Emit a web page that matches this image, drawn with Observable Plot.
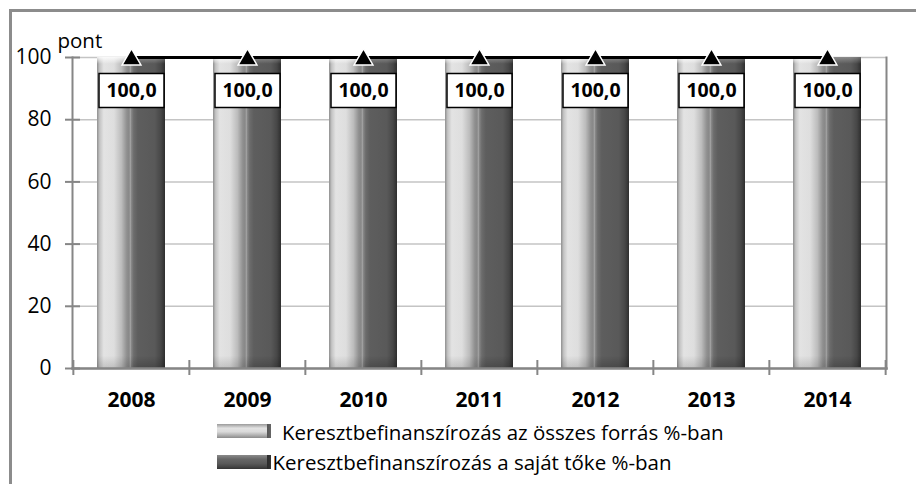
<!DOCTYPE html>
<html>
<head>
<meta charset="utf-8">
<script src="https://cdn.jsdelivr.net/npm/d3@7"></script>
<script src="https://cdn.jsdelivr.net/npm/@observablehq/plot@0.6"></script>
<style>
  html, body { margin: 0; padding: 0; background: #fff; overflow: hidden; }
  #wrap { position: relative; width: 916px; height: 484px; overflow: hidden; font-family: "Open Sans", sans-serif; }
  #border { position: absolute; left: 9px; top: 9px; width: 1000px; height: 1000px; border: 3px solid #8c8c8c; }
  #chart { position: absolute; left: 0; top: 0; }
  .lg-sw { position: absolute; width: 54px; height: 14px; box-sizing: border-box; }
  .lg-tx { position: absolute; font-size: 20.5px; line-height: 1; color: #000; white-space: nowrap; }
</style>
</head>
<body>
<div id="wrap">
  <div id="border"></div>
  <div id="chart"></div>
  <div class="lg-sw" id="sw1" style="left:217px; top:424px;"></div>
  <div class="lg-tx" id="tx1" style="left:282px; top:422px;"></div>
  <div class="lg-sw" id="sw2" style="left:217px; top:455px;"></div>
  <div class="lg-tx" id="tx2" style="left:272.5px; top:452px;"></div>
</div>
<script>
// ---- data ----
const years = ["2008", "2009", "2010", "2011", "2012", "2013", "2014"];
const osszesForras = [100, 100, 100, 100, 100, 100, 100];
const sajatToke = [100, 100, 100, 100, 100, 100, 100];
const indexLine = [100.0, 100.0, 100.0, 100.0, 100.0, 100.0, 100.0];
const yTicks = [0, 20, 40, 60, 80, 100];
const seriesNames = [
  "Keresztbefinanszírozás az összes forrás %-ban",
  "Keresztbefinanszírozás a saját tőke %-ban"
];
const yUnit = "pont";

const rows = years.map((year, i) => ({
  year,
  forras: osszesForras[i],
  toke: sajatToke[i],
  line: indexLine[i]
}));

const fmt = v => v.toFixed(1).replace(".", ",");

const W = 916, H = 410, ML = 72, MR = 30, MT = 57, MB = 42;
const step = (W - ML - MR) / years.length;
const padInner = 0.415;
const bw = step * (1 - padInner);

const boxSymbol = {
  draw(ctx) {
    ctx.moveTo(-32.5, -17);
    ctx.lineTo(32.5, -17);
    ctx.lineTo(32.5, 17);
    ctx.lineTo(-32.5, 17);
    ctx.closePath();
  }
};

const axisColor = "#868686";

const svg = Plot.plot({
  width: W,
  height: H,
  marginLeft: ML,
  marginRight: MR,
  marginTop: MT,
  marginBottom: MB,
  x: { domain: years, paddingInner: padInner, paddingOuter: padInner / 2, label: null },
  y: { domain: [0, 100], label: null },
  style: { fontFamily: "Open Sans, sans-serif", background: "transparent", color: "#000", overflow: "visible" },
  marks: [
    Plot.gridY(yTicks, { stroke: "#c4c4c4", strokeOpacity: 1, strokeWidth: 1.5 }),
    // bars
    Plot.barY(rows, { x: "year", y: "forras", fill: "url(#gLight)", insetRight: bw / 2 }),
    Plot.barY(rows, { x: "year", y: "forras", fill: "url(#gBevel)", insetRight: bw / 2 }),
    Plot.barY(rows, { x: "year", y: "toke", fill: "url(#gDark)", insetLeft: bw / 2 }),
    Plot.barY(rows, { x: "year", y: "toke", fill: "url(#gBevelD)", insetLeft: bw / 2 }),
    // frame lines
    Plot.frame({ anchor: "left", stroke: axisColor, strokeWidth: 2 }),
    Plot.frame({ anchor: "right", stroke: axisColor, strokeWidth: 2 }),
    Plot.frame({ anchor: "bottom", stroke: axisColor, strokeWidth: 2.5 }),
    // y axis
    Plot.axisY(yTicks, { tickSize: 15, dx: 8, stroke: axisColor, strokeWidth: 2, fill: "none", label: null }),
    Plot.axisY(yTicks, { tickSize: 0, tickPadding: 21, fontSize: 21, stroke: "none", label: null }),
    Plot.text([yUnit], { frameAnchor: "top-left", dx: -15, dy: -24, textAnchor: "start", fontSize: 20.5, fill: "#000" }),
    // x axis
    Plot.axisX({ tickSize: 15, dx: -step / 2, dy: -8, stroke: axisColor, strokeWidth: 2, fill: "none", label: null }),
    Plot.axisX([years[years.length - 1]], { tickSize: 15, dx: step / 2, dy: -8, stroke: axisColor, strokeWidth: 2, fill: "none", label: null }),
    Plot.axisX({ tickSize: 0, tickPadding: 24, fontSize: 21, fontWeight: "bold", stroke: "none", label: null }),
    // line with triangles
    Plot.lineY(rows, { x: "year", y: "line", stroke: "#000", strokeWidth: 3 }),
    Plot.dot(rows, { x: "year", y: "line", symbol: "triangle", r: 7, dy: 2, fill: "#000", stroke: "#fff", strokeWidth: 1.5 }),
    // labels
    Plot.dot(rows, { x: "year", y: "line", symbol: boxSymbol, r: 5, dy: 33, fill: "#fff", stroke: "#000", strokeWidth: 1.5 }),
    Plot.text(rows, { x: "year", y: "line", text: d => fmt(d.line), dy: 33, fontSize: 19.5, fontWeight: "bold", fill: "#000" })
  ]
});

d3.select(svg).insert("defs", ":first-child").html(`
  <linearGradient id="gLight" x1="0" x2="1" y1="0" y2="0">
    <stop offset="0" stop-color="#8f8f8f"/>
    <stop offset="0.08" stop-color="#c4c4c4"/>
    <stop offset="0.2" stop-color="#e3e3e3"/>
    <stop offset="0.5" stop-color="#dedede"/>
    <stop offset="0.72" stop-color="#bcbcbc"/>
    <stop offset="0.88" stop-color="#8e8e8e"/>
    <stop offset="0.94" stop-color="#888888"/>
    <stop offset="1" stop-color="#a6a6a6"/>
  </linearGradient>
  <linearGradient id="gDark" x1="0" x2="1" y1="0" y2="0">
    <stop offset="0" stop-color="#8a8a8a"/>
    <stop offset="0.08" stop-color="#6c6c6c"/>
    <stop offset="0.2" stop-color="#5e5e5e"/>
    <stop offset="0.7" stop-color="#595959"/>
    <stop offset="0.88" stop-color="#474747"/>
    <stop offset="1" stop-color="#2e2e2e"/>
  </linearGradient>
  <linearGradient id="gBevel" x1="0" x2="0" y1="0" y2="1">
    <stop offset="0" stop-color="#fff" stop-opacity="0.85"/>
    <stop offset="0.022" stop-color="#fff" stop-opacity="0"/>
    <stop offset="0.96" stop-color="#000" stop-opacity="0"/>
    <stop offset="1" stop-color="#000" stop-opacity="0.14"/>
  </linearGradient>
  <linearGradient id="gBevelD" x1="0" x2="0" y1="0" y2="1">
    <stop offset="0" stop-color="#fff" stop-opacity="0.3"/>
    <stop offset="0.022" stop-color="#fff" stop-opacity="0"/>
    <stop offset="0.96" stop-color="#000" stop-opacity="0"/>
    <stop offset="1" stop-color="#000" stop-opacity="0.2"/>
  </linearGradient>
`);

document.getElementById("chart").appendChild(svg);

// legend
document.getElementById("tx1").textContent = seriesNames[0];
document.getElementById("tx2").textContent = seriesNames[1];
document.getElementById("sw1").style.background =
  "linear-gradient(to right, rgba(0,0,0,0) 0, rgba(0,0,0,0) 92%, #555 92%, #666 100%), linear-gradient(to bottom, #9a9a9a 0%, #e2e2e2 30%, #dadada 55%, #b0b0b0 80%, #8a8a8a 100%)";
document.getElementById("sw2").style.background =
  "linear-gradient(to right, rgba(0,0,0,0) 0, rgba(0,0,0,0) 92%, #2a2a2a 92%, #333 100%), linear-gradient(to bottom, #8a8a8a 0%, #666 30%, #5a5a5a 60%, #444 85%, #333 100%)";
</script>
</body>
</html>
